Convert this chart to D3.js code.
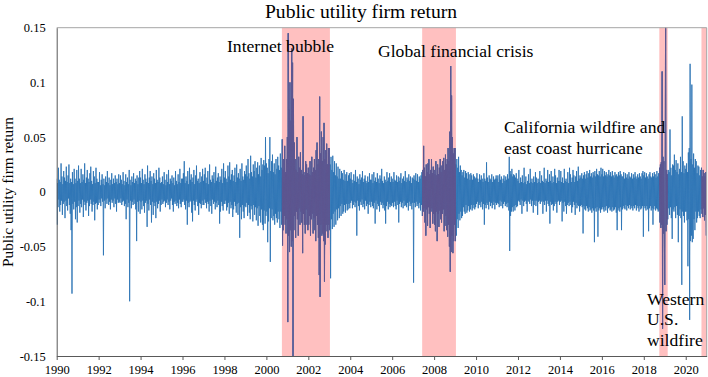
<!DOCTYPE html>
<html><head><meta charset="utf-8">
<script src="https://cdn.jsdelivr.net/npm/d3@7"></script>
<style>html,body{margin:0;padding:0;background:#fff}svg{display:block}
svg text{font-family:"Liberation Serif","Times New Roman",serif}</style>
</head><body>
<svg id="chart" width="708" height="377"></svg>
<script>
// ---- data ----
const years = [1990,1991,1992,1993,1994,1995,1996,1997,1998,1999,2000,2001,2002,2003,2004,2005,2006,2007,2008,2009,2010,2011,2012,2013,2014,2015,2016,2017,2018,2019,2020];
// extreme returns, 48 evenly spaced readings per year
const returns = [
[.012,-.03,.008,-.014,.022,-.007,.011,-.018,.009,-.012,.026,-.008,.014,-.021,.007,-.011,.019,-.009,.013,-.024,.01,-.008,.023,-.013,.009,-.017,.015,-.006,.025,-.012,.008,-.02,.012,-.035,.009,-.093,.018,-.011,.007,-.016,.021,-.009,.012,-.025,.008,-.014,.02,-.028],
[.01,-.013,.024,-.008,.012,-.019,.008,-.011,.021,-.014,.009,-.007,.016,-.023,.011,-.009,.026,-.012,.008,-.017,.013,-.01,.02,-.008,.012,-.022,.009,-.013,.017,-.007,.023,-.011,.01,-.018,.007,-.012,.019,-.009,.014,-.026,.008,-.011,.022,-.01,.012,-.016,.009,-.012],
[.009,-.007,.018,-.01,.006,-.013,.011,-.006,.016,-.009,.007,-.058,.012,-.008,.006,-.015,.014,-.007,.009,-.011,.019,-.006,.008,-.012,.013,-.009,.006,-.016,.011,-.007,.017,-.01,.007,-.008,.012,-.014,.008,-.006,.015,-.011,.009,-.018,.012,-.007,.007,-.01,.016,-.009],
[.008,-.01,.015,-.006,.011,-.012,.007,-.009,.018,-.008,.01,-.013,.006,-.011,.016,-.025,.009,-.007,.013,-.014,.007,-.01,.02,-.1,.011,-.008,.006,-.015,.014,-.009,.009,-.012,.017,-.007,.008,-.011,.012,-.016,.01,-.045,.015,-.009,.007,-.018,.013,-.008,.019,-.02],
[.013,-.009,.008,-.016,.021,-.008,.011,-.013,.007,-.019,.016,-.01,.012,-.008,.009,-.032,.024,-.011,.008,-.017,.013,-.007,.019,-.012,.01,-.028,.014,-.009,.007,-.021,.017,-.01,.012,-.013,.008,-.024,.02,-.009,.011,-.015,.009,-.011,.022,-.008,.013,-.018,.008,-.012],
[.009,-.007,.014,-.011,.007,-.009,.018,-.008,.011,-.014,.006,-.01,.016,-.007,.009,-.012,.02,-.009,.007,-.016,.012,-.008,.01,-.006,.015,-.012,.008,-.018,.013,-.009,.006,-.011,.019,-.008,.01,-.013,.007,-.01,.016,-.015,.009,-.007,.021,-.011,.008,-.014,.012,-.009],
[.012,-.009,.017,-.007,.028,-.012,.008,-.016,.014,-.008,.01,-.03,.019,-.01,.007,-.014,.022,-.009,.011,-.008,.016,-.019,.009,-.027,.013,-.008,.02,-.012,.007,-.017,.015,-.009,.024,-.007,.01,-.013,.012,-.021,.008,-.01,.018,-.011,.009,-.015,.014,-.008,.021,-.012],
[.01,-.012,.016,-.007,.022,-.01,.008,-.015,.013,-.009,.019,-.011,.007,-.018,.025,-.008,.011,-.013,.009,-.02,.015,-.007,.012,-.011,.018,-.009,.008,-.016,.023,-.01,.01,-.014,.013,-.008,.017,-.012,.009,-.029,.014,-.018,.011,-.009,.021,-.013,.008,-.017,.026,-.011],
[.013,-.011,.019,-.008,.012,-.017,.009,-.014,.024,-.01,.014,-.02,.027,-.009,.011,-.015,.016,-.012,.02,-.023,.01,-.016,.015,-.009,.022,-.013,.009,-.019,.025,-.011,.013,-.021,.017,-.01,.012,-.042,.021,-.014,.01,-.025,.026,-.012,.014,-.018,.011,-.024,.019,-.013],
[.016,-.014,.024,-.01,.014,-.022,.03,-.012,.017,-.019,.012,-.025,.033,-.013,.018,-.016,.014,-.027,.025,-.012,.019,-.021,.028,-.014,.013,-.026,.022,-.015,.027,-.031,.016,-.013,.024,-.022,.014,-.028,.031,-.016,.02,-.03,.025,-.035,.029,-.017,.024,-.029,.05,-.022],
[.026,-.018,.022,-.046,.017,-.027,.03,-.015,.05,-.064,.019,-.024,.028,-.016,.034,-.026,.018,-.022,.026,-.03,.016,-.02,.03,-.024,.021,-.028,.032,-.018,.024,-.025,.02,-.033,.035,-.018,.022,-.03,.048,-.049,.02,-.035,.03,-.022,.042,-.03,.018,-.038,.03,-.025],
[.05,-.119,.145,-.04,.075,-.055,.1,-.035,.065,-.05,.131,-.045,.118,-.16,.085,-.035,.045,-.022,.03,-.042,.02,-.018,.05,-.025,.018,-.04,.032,-.015,.022,-.03,.036,-.018,.02,-.028,.016,-.056,.069,-.02,.018,-.03,.015,-.038,.028,-.016,.025,-.03,.017,-.035],
[.022,-.03,.016,-.022,.028,-.04,.015,-.025,.032,-.02,.018,-.038,.022,-.024,.03,-.035,.02,-.045,.038,-.022,.045,-.03,.025,-.042,.03,-.076,.087,-.096,.035,-.03,.055,-.04,.028,-.038,.05,-.045,.063,-.082,.03,-.048,.038,-.03,.044,-.036,.025,-.042,.04,-.03],
[.04,-.035,.025,-.079,.032,-.025,.02,-.034,.033,-.02,.018,-.032,.028,-.018,.015,-.03,.026,-.016,.014,-.026,.023,-.015,.012,-.024,.021,-.013,.012,-.022,.019,-.011,.017,-.02,.011,-.018,.02,-.012,.01,-.019,.016,-.011,.018,-.017,.01,-.016,.015,-.011,.017,-.015],
[.012,-.01,.018,-.008,.011,-.015,.008,-.012,.016,-.009,.01,-.014,.02,-.01,.009,-.04,.014,-.008,.012,-.013,.007,-.017,.016,-.009,.011,-.012,.013,-.007,.019,-.014,.009,-.011,.012,-.016,.015,-.008,.01,-.013,.008,-.011,.014,-.02,.009,-.012,.017,-.009,.011,-.014],
[.011,-.009,.016,-.013,.008,-.015,.018,-.01,.01,-.029,.013,-.008,.009,-.016,.017,-.011,.012,-.013,.008,-.018,.015,-.009,.012,-.012,.021,-.01,.01,-.015,.008,-.012,.014,-.017,.011,-.029,.009,-.013,.018,-.009,.01,-.016,.013,-.011,.017,-.014,.009,-.012,.014,-.013],
[.012,-.01,.009,-.014,.018,-.009,.011,-.013,.01,-.016,.015,-.008,.009,-.012,.014,-.028,.01,-.011,.013,-.009,.017,-.014,.008,-.01,.012,-.015,.014,-.008,.01,-.013,.019,-.012,.009,-.014,.013,-.01,.011,-.017,.016,-.009,.01,-.013,.014,-.011,.008,-.016,.013,-.01],
[.012,-.083,.015,-.01,.011,-.014,.017,-.009,.01,-.013,.016,-.011,.009,-.015,.014,-.01,.012,-.017,.015,-.012,.018,-.022,.02,-.018,.042,-.015,.022,-.028,.014,-.04,.025,-.016,.018,-.031,.026,-.014,.03,-.02,.016,-.033,.02,-.018,.03,-.015,.017,-.029,.023,-.02],
[.02,-.03,.016,-.036,.028,-.018,.015,-.045,.025,-.02,.016,-.032,.022,-.017,.03,-.025,.018,-.028,.024,-.02,.028,-.016,.031,-.036,.02,-.031,.034,-.022,.025,-.035,.03,-.041,.04,-.03,.028,-.05,.055,-.073,.115,-.055,.088,-.04,.05,-.056,.035,-.045,.04,-.03],
[.04,-.045,.025,-.04,.03,-.025,.022,-.033,.032,-.02,.018,-.026,.024,-.018,.02,-.024,.015,-.022,.018,-.014,.02,-.018,.013,-.02,.019,-.012,.017,-.019,.012,-.017,.018,-.013,.016,-.018,.011,-.016,.017,-.012,.015,-.017,.011,-.015,.016,-.012,.014,-.016,.012,-.014],
[.013,-.011,.017,-.009,.012,-.015,.009,-.012,.016,-.01,.011,-.014,.015,-.009,.012,-.016,.009,-.011,.017,-.03,.012,-.012,.01,-.015,.027,-.01,.013,-.012,.009,-.016,.015,-.009,.012,-.013,.011,-.01,.016,-.015,.009,-.012,.014,-.009,.011,-.016,.012,-.01,.015,-.012],
[.012,-.01,.015,-.011,.009,-.014,.016,-.008,.011,-.013,.014,-.009,.008,-.015,.012,-.011,.015,-.009,.01,-.013,.014,-.011,.011,-.014,.016,-.01,.012,-.017,.032,-.054,.019,-.022,.016,-.018,.021,-.014,.014,-.018,.016,-.013,.015,-.017,.013,-.012,.017,-.014,.012,-.013],
[.01,-.008,.02,-.009,.008,-.012,.013,-.007,.009,-.02,.015,-.008,.008,-.013,.022,-.009,.009,-.008,.014,-.011,.007,-.018,.01,-.008,.016,-.009,.008,-.011,.021,-.007,.009,-.013,.012,-.008,.008,-.019,.014,-.012,.009,-.008,.018,-.013,.013,-.008,.008,-.021,.012,-.009],
[.009,-.008,.019,-.011,.008,-.009,.015,-.008,.01,-.02,.009,-.009,.022,-.012,.008,-.008,.012,-.018,.01,-.008,.02,-.011,.009,-.013,.016,-.029,.01,-.009,.019,-.012,.008,-.011,.014,-.017,.009,-.013,.021,-.009,.015,-.011,.008,-.019,.013,-.009,.01,-.008,.02,-.012],
[.01,-.009,.019,-.008,.009,-.027,.013,-.01,.008,-.018,.021,-.009,.01,-.013,.012,-.02,.009,-.012,.018,-.01,.008,-.013,.022,-.009,.016,-.012,.009,-.019,.013,-.014,.02,-.009,.015,-.012,.009,-.021,.014,-.01,.019,-.015,.01,-.012,.023,-.013,.012,-.018,.015,-.013],
[.013,-.012,.017,-.014,.012,-.038,.015,-.013,.018,-.016,.012,-.017,.016,-.013,.019,-.015,.013,-.018,.017,-.014,.02,-.017,.014,-.016,.017,-.019,.013,-.015,.018,-.017,.015,-.046,.019,-.015,.014,-.018,.021,-.014,.016,-.041,.015,-.017,.019,-.015,.014,-.019,.022,-.016],
[.016,-.014,.021,-.016,.014,-.018,.019,-.014,.015,-.017,.018,-.013,.014,-.019,.016,-.015,.02,-.014,.015,-.017,.018,-.016,.014,-.018,.019,-.014,.015,-.017,.013,-.016,.018,-.014,.015,-.019,.016,-.035,.014,-.017,.018,-.015,.015,-.018,.019,-.014,.016,-.035,.014,-.016],
[.014,-.013,.018,-.015,.012,-.016,.017,-.012,.013,-.017,.016,-.013,.012,-.015,.018,-.012,.014,-.016,.013,-.013,.017,-.015,.012,-.017,.016,-.013,.013,-.015,.018,-.012,.014,-.017,.012,-.013,.016,-.015,.013,-.018,.017,-.013,.014,-.016,.012,-.015,.017,-.013,.019,-.041],
[.015,-.013,.018,-.015,.013,-.017,.017,-.013,.014,-.016,.012,-.036,.016,-.015,.018,-.013,.014,-.017,.013,-.015,.017,-.03,.014,-.016,.018,-.013,.016,-.017,.013,-.015,.019,-.016,.014,-.018,.017,-.017,.022,-.028,.025,-.033,.027,-.03,.11,-.125,.032,-.038,.028,-.035],
[-.085,.03,.17,-.036,.02,-.03,.016,-.025,.02,-.015,.018,-.021,.057,-.014,.022,-.024,.015,-.043,.025,-.016,.024,-.018,.034,-.014,.02,-.024,.029,-.013,.018,-.021,.026,-.046,.016,-.022,.021,-.016,.032,-.024,.018,-.085,.069,-.018,.028,-.022,.017,-.028,.024,-.018],
[.021,-.018,.026,-.026,.018,-.068,.036,-.025,.04,-.117,.117,-.045,.03,-.04,.098,-.046,.025,-.043,.035,-.025,.022,-.035,.03,-.018,.028,-.028,.017,-.024,.024,-.018,.023,-.022,.015,-.024,.02,-.016,.022,-.02,.014,-.023,.02,-.015,.017,-.026,.014,-.021,.018,-.04]
];
const xTickYears = [1990,1992,1994,1996,1998,2000,2002,2004,2006,2008,2010,2012,2014,2016,2018,2020];
const yTickValues = [-0.15,-0.1,-0.05,0,0.05,0.1,0.15];
const eventStart = [2000.74, 2007.43, 2018.74, 2020.75];
const eventEnd   = [2003.03, 2009.04, 2019.14, 2021.0];
const eventText  = [["Internet bubble"],["Global financial crisis"],["California wildfire and","east coast hurricane"],["Western","U.S.","wildfire"]];
const chartTitle = "Public utility firm return";
const yAxisTitle = "Public utility firm return";

// ---- layout ----
const L = 56.7, R = 706.7, T = 27.7, B = 356;
const svg = d3.select("#chart");
const FONT = "'Liberation Serif','Times New Roman',serif";

const x = d3.scaleLinear().domain([1990, 2021]).range([L, R]);
const y = d3.scaleLinear().domain([-0.15, 0.15]).range([B, T]);

const points = years.flatMap((yr, i) => returns[i].map((v, j) => ({t: yr + j / returns[i].length, v})));

const defs = svg.append("defs");
defs.append("clipPath").attr("id","plotClip").append("rect")
  .attr("x", L).attr("y", T).attr("width", R - L).attr("height", B - T);
const evClip = defs.append("clipPath").attr("id","evClip");
eventStart.forEach((s, i) => {
  evClip.append("rect").attr("x", x(s)).attr("y", T).attr("width", x(eventEnd[i]) - x(s)).attr("height", B - T);
});

// shaded periods
svg.append("g").selectAll("rect").data(eventStart).join("rect")
  .attr("x", d => x(d)).attr("y", T)
  .attr("width", (d, i) => x(eventEnd[i]) - x(d)).attr("height", B - T)
  .attr("fill", "#ffc0c0");

const line = d3.line().x(d => x(d.t)).y(d => y(d.v));
svg.append("g").attr("clip-path","url(#plotClip)").append("path")
  .datum(points).attr("d", line)
  .attr("fill","none").attr("stroke","#2e75b6").attr("stroke-width",0.9);
svg.append("g").attr("clip-path","url(#evClip)").append("path")
  .datum(points).attr("d", line)
  .attr("fill","none").attr("stroke","#5f5690").attr("stroke-width",0.9);

// frame
svg.append("line").attr("x1",L).attr("x2",R).attr("y1",T).attr("y2",T).attr("stroke","#a6a6a6").attr("stroke-width",1);
svg.append("line").attr("x1",R).attr("x2",R).attr("y1",T).attr("y2",B).attr("stroke","#a6a6a6").attr("stroke-width",1);

// axes
const xAxis = d3.axisBottom(x).tickValues(xTickYears).tickFormat(d3.format("d")).tickSizeOuter(0).tickSizeInner(4).tickPadding(5);
const gx = svg.append("g").attr("transform",`translate(0,${B})`).call(xAxis);
gx.attr("font-family", null);
gx.select(".domain").attr("stroke","#595959");
gx.selectAll(".tick line").attr("stroke","#595959");
gx.selectAll("text").style("font-family",FONT).style("font-size","12.5px").attr("fill","#000");

const yAxis = d3.axisLeft(y).tickValues(yTickValues).tickFormat(d => d === 0 ? "0" : String(+d.toFixed(2))).tickSize(0).tickPadding(11).tickSizeOuter(0);
const gy = svg.append("g").attr("transform",`translate(${L},0)`).call(yAxis);
gy.attr("font-family", null);
gy.select(".domain").attr("stroke","#595959");
gy.selectAll("text").style("font-family",FONT).style("font-size","12.5px").attr("fill","#000");

// titles
svg.append("text").attr("x",361).attr("y",17.5).attr("text-anchor","middle")
  .style("font-family",FONT).style("font-size","19.6px").text(chartTitle);
svg.append("text").attr("transform","translate(13,192) rotate(-90)").attr("text-anchor","middle")
  .style("font-family",FONT).style("font-size","15.3px").text(yAxisTitle);

// annotations
const annPos = [[227,52,0],[378,57,0],[504,133,21],[647,304.5,20.7]];
eventText.forEach((lines, i) => {
  const [ax, ay, lh] = annPos[i];
  lines.forEach((s, k) => {
    svg.append("text").attr("x", ax).attr("y", ay + k * lh)
      .style("font-family",FONT).style("font-size","17.6px").attr("fill","#000").text(s);
  });
});
</script>
</body></html>
